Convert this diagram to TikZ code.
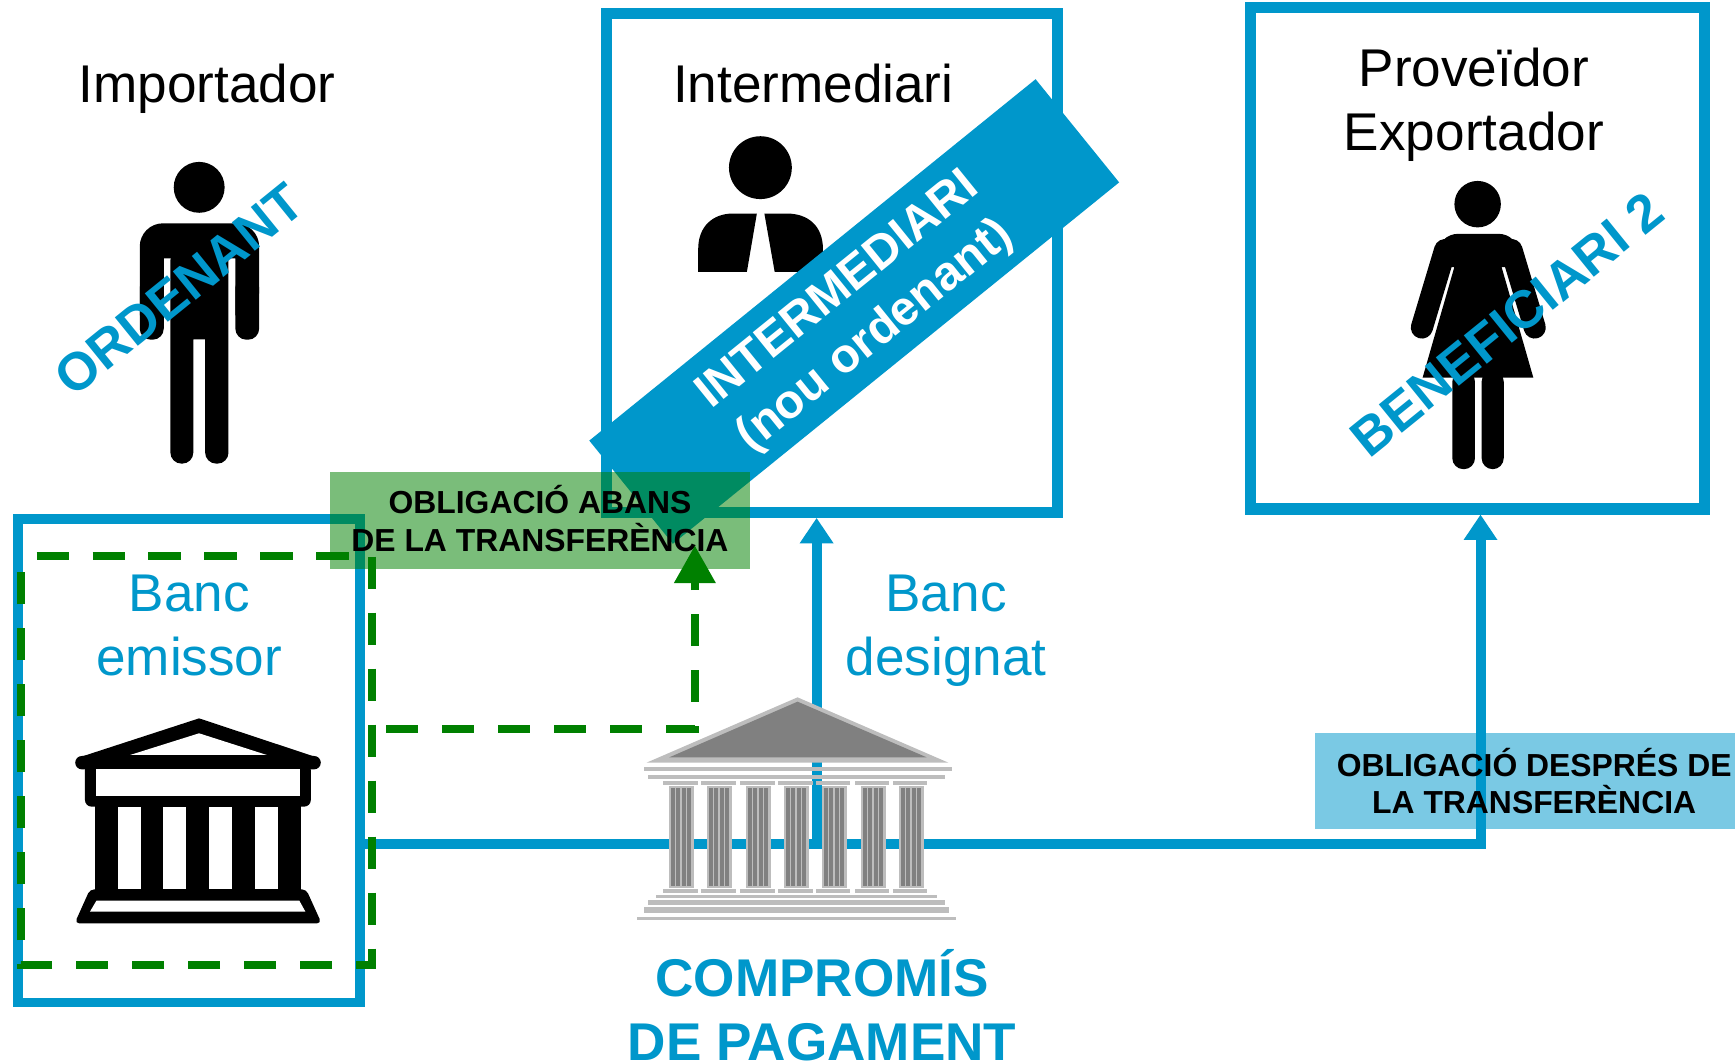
\documentclass[tikz,border=0pt]{standalone}
\usepackage{fontspec}
\setmainfont{Liberation Sans}
\usetikzlibrary{arrows.meta}
\definecolor{bancblue}{HTML}{0097CB}
\definecolor{dealgreen}{HTML}{008000}
\definecolor{templelight}{HTML}{BDBDBD}
\definecolor{templedark}{HTML}{808080}

\begin{document}
\begin{tikzpicture}[x=0.5pt,y=-0.5pt]
\tikzstyle{framebox}=[rectangle,draw=bancblue,line width=5pt,inner sep=0pt]
\tikzstyle{role}=[align=center,font=\fontsize{24}{29}\selectfont]
\tikzstyle{bank}=[role,text=bancblue]
\tikzstyle{tilted}=[rotate=39,text=bancblue,font=\fontsize{24}{29}\selectfont\bfseries]
\tikzstyle{note}=[rectangle,align=center,fill opacity=0.52,text opacity=1,inner sep=0pt,minimum height=43.5pt,font=\fontsize{14.4}{17}\selectfont\bfseries]
\tikzstyle{flow}=[draw=bancblue,line width=4.5pt]
\tikzstyle{flowtip}=[-{Triangle[length=11.5pt,width=14.5pt]}]
\tikzstyle{deal}=[draw=dealgreen,line width=3.5pt,dash pattern=on 14.5pt off 10.8pt]
\useasboundingbox (0,0) rectangle (1568,960);

\node[framebox,minimum width=204pt,minimum height=225.5pt](intermediari) at (752,237.5) {};
\node[framebox,minimum width=205pt,minimum height=226.5pt](exportador) at (1335,233.5) {};
\node[framebox,line width=4.5pt,minimum width=154.5pt,minimum height=218.5pt](emissor) at (171,687.5) {};

% man
\fill (180,169.3) circle[radius=23];
\fill[rounded corners=10.5pt] (180,201.8) -- (234.2,201.8) -- (234.2,285) [sharp corners] -- (212.7,285) -- (212.7,233.4) -- (148,233.4) -- (148,285) -- (126.3,285) [rounded corners=10.5pt] -- (126.3,201.8) -- cycle;
\fill[rounded corners=5pt] (126.3,250) -- (126.3,307) -- (148,307) -- (148,250) -- cycle;
\fill[rounded corners=5pt] (212.7,250) -- (212.7,307) -- (234.2,307) -- (234.2,250) -- cycle;
\fill[rounded corners=5pt] (154,225) -- (154,419) -- (174.7,419) [sharp corners] -- (174.7,306.6) -- (185.4,306.6) [rounded corners=5pt] -- (185.4,419) -- (206.5,419) -- (206.5,225) -- cycle;

% adviser
\fill (687.2,151.5) circle[radius=28.4];
\fill (631,245.6) -- (631,224.8) .. controls (631,204) and (645,193) .. (662,193) -- (684,193) -- (675,245.6) -- cycle;
\fill (700.1,245.6) -- (690.8,193) -- (711.4,193) .. controls (730,193) and (743.7,204) .. (743.7,224.8) -- (743.7,245.6) -- cycle;

% woman
\fill (1335.4,184.5) circle[radius=21];
\draw[line width=10pt,line cap=round] (1306,226) -- (1285,296);
\draw[line width=10pt,line cap=round] (1366,226) -- (1387,296);
\fill (1295.4,233.7) .. controls (1300,218) and (1308,211.3) .. (1318,211.3) -- (1354,211.3) .. controls (1364,211.3) and (1372,218) .. (1376.1,233.7) -- (1361,241.5) -- (1357.1,241.5) -- (1385.7,341.2) -- (1285.7,341.2) -- (1314.3,241.5) -- (1311.9,241.5) -- cycle;
\fill[rounded corners=5pt] (1312.5,335) -- (1312.5,424) -- (1333,424) -- (1333,335) -- cycle;
\fill[rounded corners=5pt] (1339,335) -- (1339,424) -- (1359,424) -- (1359,335) -- cycle;

% black bank
\fill (73,684) -- (179.9,649.2) -- (285,684) -- (285,690) -- (73,690) -- cycle;
\fill[white] (117.6,682.3) -- (179.9,662.7) -- (241.1,682.3) -- cycle;
\fill[rounded corners=3pt] (68,683.2) rectangle (289.9,695.3);
\fill[rounded corners=3pt] (76.8,690) rectangle (280.9,729);
\fill[white] (86.8,695.3) rectangle (270.8,719.1);
\fill (85.8,725) rectangle (272.2,806);
\foreach \slot in {106.5,147.7,189.2,230.7}
  \fill[white] (\slot,729.6) rectangle ++(20.6,73.5);
\fill[rounded corners=2pt] (81.3,803.7) -- (276.7,803.7) -- (290.6,834.4) -- (67.5,834.4) -- cycle;
\fill[white] (87.2,813.9) -- (270.5,813.9) -- (276,823.9) -- (81.3,823.9) -- cycle;

\node[role,anchor=base](importador) at (187,93) {Importador};
\node[role,anchor=base](intermediarilabel) at (735,93) {Intermediari};
\node[role](exportadorlabel) at (1332,94.5) {Proveïdor\\Exportador};
\node[bank](emissorlabel) at (171,565) {Banc\\emissor};
\node[bank](designat) at (855,570) {Banc\\designat};
\node[role,text=bancblue,font=\fontsize{24}{29}\selectfont\bfseries](compromis) at (743,908.5) {COMPROMÍS\\DE PAGAMENT};

\node[tilted](ordenant) at (162,262) {ORDENANT};
\node[tilted](beneficiari) at (1362,293) {BENEFICIARI 2};

\coordinate (hub) at (1338,762.5);
\coordinate (branch) at (738,762.5);
\draw[flow,flowtip] (emissor.east |- hub) -- (hub) -- (hub |- exportador.south);
\draw[flow,flowtip] (branch) -- (branch |- intermediari.south);

% grey bank
\fill[templelight] (584.4,689.2) -- (720.8,630.2) -- (857,689.2) -- cycle;
\fill[templedark] (604.9,684.4) -- (720.8,634.1) -- (837.4,684.4) -- cycle;
\fill[templelight] (582,693.1) rectangle (860.3,696.7);
\fill[templelight] (585.6,700.3) rectangle (854,704);
\foreach \colx in {604.6,638.9,674.2,708.5,742.8,778,812.4} {
  \fill[templelight] (\colx-5.4,705.8) rectangle ++(31.2,3.6);
  \fill[templelight] (\colx,710.3) rectangle ++(22.5,92.2);
  \fill[templelight] (\colx-5.4,803.4) rectangle ++(31.2,3.6);
  \foreach \off in {1.8,6.3,11.7,16.3}
    \fill[templedark] (\colx+\off,711.8) rectangle ++(3.6,88.8);
}
\fill[templelight] (592.8,808.8) rectangle (846.7,811.5);
\fill[templelight] (585.6,813.3) rectangle (854,817.8);
\fill[templelight] (582,819.6) rectangle (857.6,825);
\fill[templelight] (575.7,828.7) rectangle (864,831.4);

\node[rectangle,fill=bancblue,rotate=39,minimum width=259.5pt,minimum height=60pt,inner sep=0pt](banner) at (772,281.5) {};
\node[rotate=39,align=center,text=white,font=\fontsize{21.7}{26.5}\selectfont\bfseries](bannerlabel) at (775,284) {INTERMEDIARI\\(nou ordenant)};

\node[note,fill=dealgreen,minimum width=190pt](abans) at (488,470.5) {OBLIGACIÓ ABANS\\DE LA TRANSFERÈNCIA\rule[-2pt]{0pt}{0pt}};
\node[note,fill=bancblue,minimum width=198.5pt](despres) at (1386.5,706) {OBLIGACIÓ DESPRÉS DE\\LA TRANSFERÈNCIA};

\coordinate (cornerA) at (33,502.5);
\coordinate (cornerB) at (336,872);
\coordinate (cornerC) at (18.7,502.5);
\coordinate (elbow) at (628,659);
\coordinate (dealtip) at (628,493);
\draw[deal] (cornerA) -- (cornerA -| cornerB) -- (cornerB) -- (cornerB -| cornerC) -- (cornerC);
\draw[deal,dash phase=18.8pt,-{Triangle[length=17pt,width=18pt]}] (cornerB |- elbow) -- (elbow) -- (dealtip);
\end{tikzpicture}
\end{document}
